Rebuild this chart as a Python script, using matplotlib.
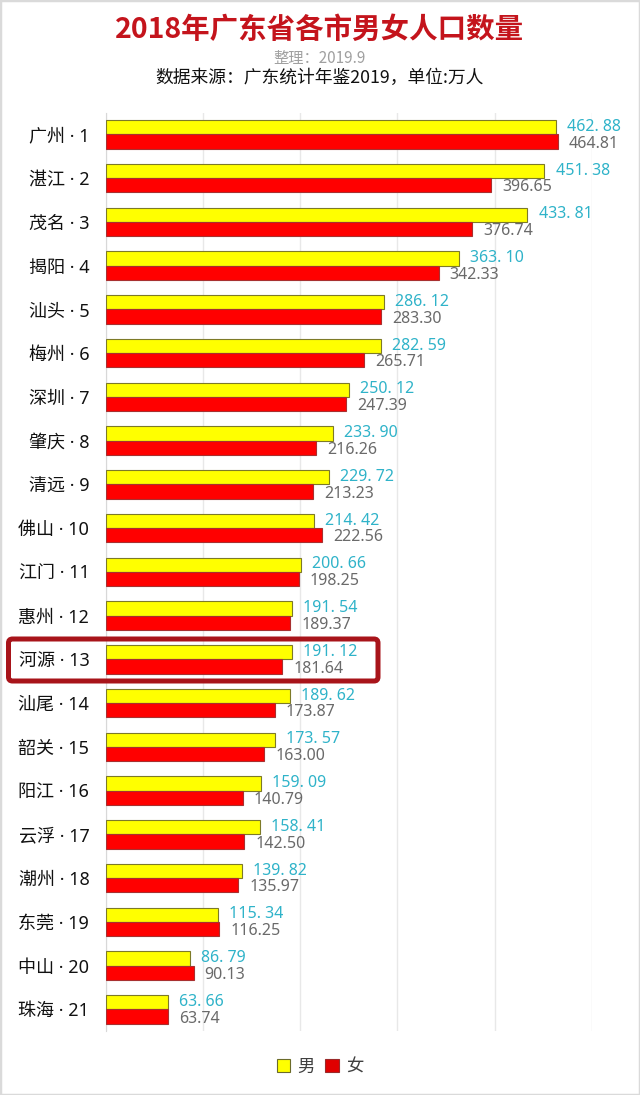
import matplotlib
matplotlib.use("Agg")
import matplotlib.pyplot as plt
from matplotlib.patches import Patch, Rectangle, FancyBboxPatch

plt.rcParams['font.family'] = ['Noto Sans CJK SC', 'DejaVu Sans']

cities = ['广州', '湛江', '茂名', '揭阳', '汕头', '梅州', '深圳', '肇庆', '清远', '佛山', '江门',
          '惠州', '河源', '汕尾', '韶关', '阳江', '云浮', '潮州', '东莞', '中山', '珠海']
male = [462.88, 451.38, 433.81, 363.10, 286.12, 282.59, 250.12, 233.90, 229.72, 214.42, 200.66,
        191.54, 191.12, 189.62, 173.57, 159.09, 158.41, 139.82, 115.34, 86.79, 63.66]
female = [464.81, 396.65, 376.74, 342.33, 283.30, 265.71, 247.39, 216.26, 213.23, 222.56, 198.25,
          189.37, 181.64, 173.87, 163.00, 140.79, 142.50, 135.97, 116.25, 90.13, 63.74]
xticks = [0, 100, 200, 300, 400, 500]

W, H = 640, 1095
fig = plt.figure(figsize=(W / 100, H / 100), dpi=100)
fig.patch.set_facecolor('white')

ax_left, ax_right = 106 / W, 591.7 / W
ax_top, ax_bot = 112.5 / H, 1031.25 / H
ax = fig.add_axes([ax_left, 1 - ax_bot, ax_right - ax_left, ax_bot - ax_top])

n = len(cities)
pos = list(range(n))
bh = 0.325
ax.barh([p - bh / 2 for p in pos], male, height=bh, color='#ffff00', edgecolor='#7d7a28',
        linewidth=0.8, zorder=3)
ax.barh([p + bh / 2 for p in pos], female, height=bh, color='#ff0000', edgecolor='#a83030',
        linewidth=0.8, zorder=3)

for p, m, f in zip(pos, male, female):
    ax.annotate(f"{m:.2f}".replace('.', '. '), xy=(m, p - bh / 2 - 0.01), xytext=(8, 0),
                textcoords='offset points', va='center', ha='left', fontsize=11.5,
                color='#2fb3c9', family=['Noto Sans', 'DejaVu Sans'], fontweight='medium',
                annotation_clip=False)
    ax.annotate(f"{f:.2f}", xy=(f, p + bh / 2 + 0.05), xytext=(8, 0),
                textcoords='offset points', va='center', ha='left', fontsize=11.5,
                color='#6a6a6a', family=['Noto Sans', 'DejaVu Sans'], annotation_clip=False)

ax.set_xlim(0, 500)
ax.set_ylim(n - 0.5, -0.5)
ax.set_xticks(xticks)
ax.set_xticklabels([])
ax.set_yticks(pos)
ax.set_yticklabels([f"{c} · {i + 1}" for i, c in enumerate(cities)], fontsize=13, color='#111111',
                   family=['Noto Sans', 'Noto Sans CJK SC', 'DejaVu Sans'])
ax.tick_params(axis='both', length=0)
ax.tick_params(axis='y', pad=12)
ax.grid(axis='x', color='#e8e8e8', linewidth=1, zorder=0)
for s in ['top', 'right', 'bottom']:
    ax.spines[s].set_visible(False)
ax.spines['left'].set_color('#d8d8d8')
ax.set_axisbelow(True)

fig.text(0.5, 1 - 30 / H, '2018年广东省各市男女人口数量', ha='center', va='center',
         fontsize=20.5, fontweight='bold', color='#c4141c')
fig.text(0.5, 1 - 58 / H, '整理：2019.9', ha='center', va='center', fontsize=11, color='#a0a0a0')
fig.text(0.5, 1 - 78 / H, '数据来源：广东统计年鉴2019，单位:万人', ha='center', va='center',
         fontsize=12.8, color='#111111')

handles = [Patch(facecolor='#ffff00', edgecolor='#6b6b2a', linewidth=0.8, label='男'),
           Patch(facecolor='#e00000', edgecolor='#9a2a2a', linewidth=0.8, label='女')]
fig.legend(handles=handles, loc='center', bbox_to_anchor=(0.5, 1 - 1066.5 / H), ncol=2,
           frameon=False, fontsize=12.5, handlelength=0.8, handleheight=0.8,
           handletextpad=0.4, columnspacing=0.6, labelcolor='#404040')

box = FancyBboxPatch((8.5 / 100, (H - 681) / 100), 3.695, 0.42,
                     boxstyle='round,pad=0,rounding_size=0.04',
                     transform=fig.dpi_scale_trans, fill=False, edgecolor='#a8141a',
                     linewidth=3.6, zorder=10)
fig.add_artist(box)

fig.add_artist(Rectangle((0, 0), 1, 1, transform=fig.transFigure, fill=False,
                         edgecolor='#dadada', linewidth=2.5, zorder=11))

fig.savefig('out.png', dpi=100, facecolor='white')
